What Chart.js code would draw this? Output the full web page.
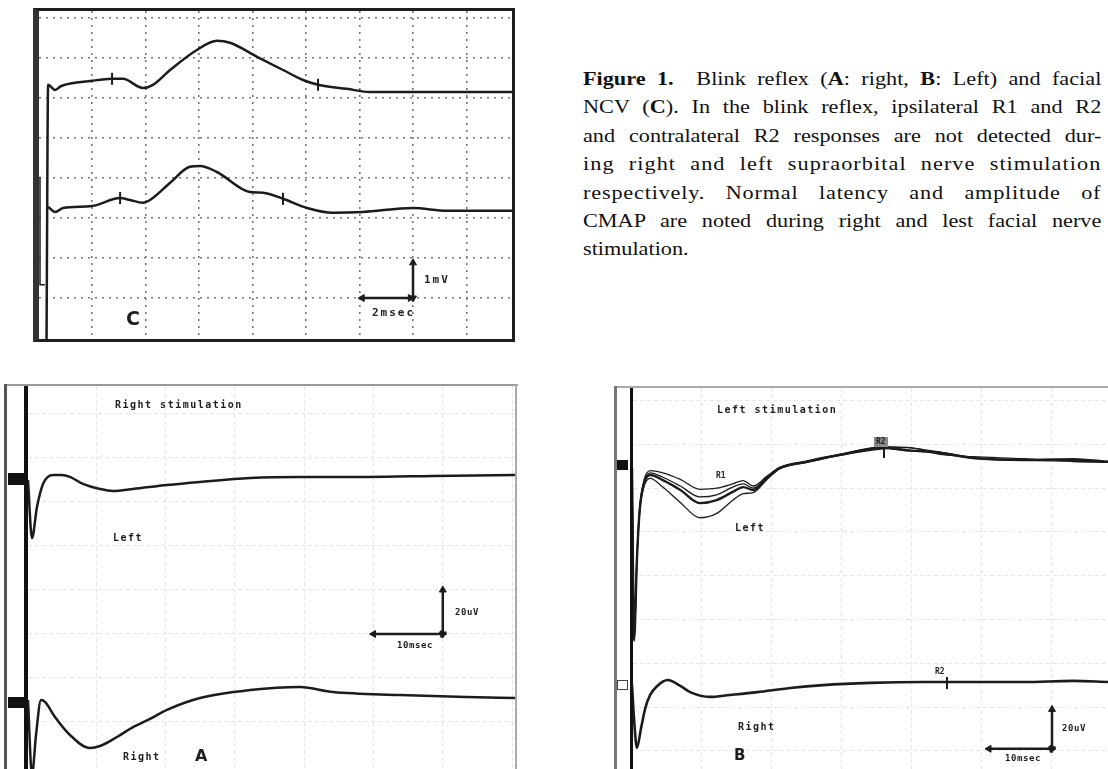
<!DOCTYPE html>
<html>
<head>
<meta charset="utf-8">
<script src="https://cdn.jsdelivr.net/npm/chart.js@4"></script>
<style>
  html, body { margin: 0; padding: 0; background: #fff; }
  body { width: 1108px; height: 769px; position: relative; overflow: hidden; }
  .abs { position: absolute; }
  canvas { position: absolute; display: block; }
  .lbl { position: absolute; font-family: "DejaVu Sans Mono", monospace; font-weight: bold; color: #1e1e1e; white-space: nowrap; }
  #cap { position: absolute; left: 583px; top: 65px; width: 443px; transform: scaleX(1.17); transform-origin: 0 0;
         font-family: "Liberation Serif", "Times New Roman", serif; font-size: 19px; line-height: 28.4px; color: #111; }
  #cap .ln { text-align: justify; text-align-last: justify; white-space: nowrap; }
  #cap .ln.last { text-align: left; text-align-last: left; }
</style>
</head>
<body>

<!-- Panel C frame -->
<div class="abs" style="left:33px;top:8px;width:482px;height:334px;box-sizing:border-box;border:3px solid #1e1e1e;border-left:6px solid #333;"></div>
<canvas id="chartC" width="473" height="328" style="left:39px;top:11px;"></canvas>
<div class="lbl" style="left:424px;top:273px;font-size:11px;line-height:14px;letter-spacing:2px;">1mV</div>
<div class="lbl" style="left:372px;top:306px;font-size:11px;line-height:14px;letter-spacing:2px;">2msec</div>
<div class="lbl" style="left:126px;top:306px;font-family:'DejaVu Sans',sans-serif;font-size:19px;line-height:24px;">C</div>

<!-- Panel A frame -->
<div class="abs" style="left:4px;top:384px;width:514px;height:2px;background:#9a9a9a;"></div>
<div class="abs" style="left:4px;top:384px;width:3px;height:385px;background:#555;"></div>
<div class="abs" style="left:515px;top:384px;width:2px;height:385px;background:#aaa;"></div>
<div class="abs" style="left:24px;top:386px;width:4px;height:383px;background:#111;"></div>
<div class="abs" style="left:8px;top:473px;width:16px;height:12px;background:#111;"></div>
<div class="abs" style="left:8px;top:697px;width:16px;height:11px;background:#111;"></div>
<canvas id="chartA" width="487" height="383" style="left:28px;top:386px;"></canvas>
<div class="lbl" style="left:115px;top:399px;font-size:10px;line-height:12px;letter-spacing:1.5px;">Right stimulation</div>
<div class="lbl" style="left:113px;top:532px;font-size:10px;line-height:12px;letter-spacing:1.5px;">Left</div>
<div class="lbl" style="left:123px;top:751px;font-size:10px;line-height:12px;letter-spacing:1.5px;">Right</div>
<div class="lbl" style="left:195px;top:747px;font-family:'DejaVu Sans',sans-serif;font-size:16px;line-height:18px;">A</div>
<div class="lbl" style="left:455px;top:607px;font-size:9px;line-height:11px;letter-spacing:0.6px;">20uV</div>
<div class="lbl" style="left:397px;top:640px;font-size:9px;line-height:11px;letter-spacing:0.6px;">10msec</div>

<!-- Panel B frame -->
<div class="abs" style="left:614px;top:386px;width:494px;height:2px;background:#aaa;"></div>
<div class="abs" style="left:614px;top:386px;width:3px;height:383px;background:#777;"></div>
<div class="abs" style="left:630px;top:388px;width:3px;height:381px;background:#111;"></div>
<div class="abs" style="left:617px;top:460px;width:11px;height:10px;background:#111;"></div>
<div class="abs" style="left:617px;top:680px;width:11px;height:10px;box-sizing:border-box;border:1px solid #444;"></div>
<canvas id="chartB" width="475" height="381" style="left:633px;top:388px;"></canvas>
<div class="lbl" style="left:717px;top:404px;font-size:10px;line-height:12px;letter-spacing:1.5px;">Left stimulation</div>
<div class="lbl" style="left:716px;top:471px;font-size:8px;line-height:10px;">R1</div>
<div class="lbl" style="left:874px;top:437px;font-size:8px;line-height:10px;background:#8a8a8a;padding:0 2px;">R2</div>
<div class="lbl" style="left:735px;top:522px;font-size:10px;line-height:12px;letter-spacing:1.5px;">Left</div>
<div class="lbl" style="left:738px;top:721px;font-size:10px;line-height:12px;letter-spacing:1.5px;">Right</div>
<div class="lbl" style="left:935px;top:667px;font-size:8px;line-height:10px;">R2</div>
<div class="lbl" style="left:734px;top:747px;font-family:'DejaVu Sans',sans-serif;font-size:15px;line-height:17px;">B</div>
<div class="lbl" style="left:1062px;top:723px;font-size:9px;line-height:11px;letter-spacing:0.6px;">20uV</div>
<div class="lbl" style="left:1005px;top:753px;font-size:9px;line-height:11px;letter-spacing:0.6px;">10msec</div>

<!-- Caption -->
<div id="cap">
  <div class="ln"><b>Figure 1.</b>&nbsp; Blink reflex (<b>A</b>: right, <b>B</b>: Left) and facial</div>
  <div class="ln">NCV (<b>C</b>). In the blink reflex, ipsilateral R1 and R2</div>
  <div class="ln">and contralateral R2 responses are not detected dur-</div>
  <div class="ln" style="letter-spacing:0.9px">ing right and left supraorbital nerve stimulation</div>
  <div class="ln" style="letter-spacing:0.7px">respectively. Normal latency and amplitude of</div>
  <div class="ln">CMAP are noted during right and lest facial nerve</div>
  <div class="ln last">stimulation.</div>
</div>

<script>
// ---------- Panel C: facial NCV (time ms, amplitude mV) ----------
const cUpperT = [0.30, 0.36, 0.62, 0.85, 2.00, 2.75, 3.16, 3.90, 4.28, 4.92, 5.92, 6.67, 7.16, 8.17, 9.14, 9.89, 10.45, 11.53, 12.39, 17.70];
const cUpperV = [-0.10, 6.33, 6.20, 6.30, 6.43, 6.48, 6.48, 6.25, 6.33, 6.70, 7.20, 7.43, 7.38, 7.03, 6.70, 6.45, 6.33, 6.23, 6.15, 6.15];
const cLowerT = [0.36, 0.62, 0.92, 2.00, 3.05, 3.42, 3.90, 4.17, 4.92, 5.66, 6.04, 6.67, 7.90, 8.40, 9.14, 10.04, 11.01, 12.13, 14.00, 15.27, 17.70];
const cLowerV = [3.28, 3.15, 3.25, 3.30, 3.50, 3.45, 3.38, 3.45, 3.88, 4.28, 4.30, 4.15, 3.65, 3.63, 3.48, 3.25, 3.13, 3.15, 3.25, 3.18, 3.18];
const cBracketT = [0.056, 0.056, 0.24];
const cBracketV = [4.03, 1.33, 1.33];
const cMarkT = [2.75, 10.45, 3.05, 9.14];
const cMarkV = [6.48, 6.33, 3.50, 3.48];
const cCalVertT = [14.0, 14.0];
const cCalVertV = [1.88, 1.0];
const cCalHorT = [12.1, 13.9];
const cCalHorV = [1.0, 1.0];
const cGridX = [2, 4, 6, 8, 10, 12, 14, 16];
const cGridY = [1, 2, 3, 4, 5, 6, 7, 8];
const cRangeX = [0.019, 17.70];
const cRangeY = [-0.025, 8.175];

// ---------- Panel A: right stimulation (time ms, amplitude uV) ----------
const aLeftT = [0.14, 0.72, 1.44, 2.31, 3.75, 5.05, 6.20, 8.08, 10.53, 12.41, 15.30, 20.20, 24.96, 32.18, 39.39, 49.06, 58.59, 70.42];
const aLeftV = [130.0, 103.6, 117.7, 128.2, 132.3, 132.3, 131.4, 128.2, 125.9, 125.0, 125.9, 127.7, 129.1, 130.9, 131.4, 131.4, 131.8, 132.3];
const aRightT = [0.14, 0.72, 1.30, 2.02, 2.60, 4.04, 6.20, 9.09, 10.53, 12.99, 15.30, 17.75, 20.20, 24.96, 32.18, 39.39, 44.16, 53.80, 63.50, 70.42];
const aRightV = [30.0, -4.1, 14.1, 30.0, 29.1, 22.3, 14.1, 8.2, 9.1, 13.2, 17.7, 21.4, 25.5, 30.9, 34.5, 35.9, 33.6, 32.3, 31.4, 30.9];
const aCalVertT = [60, 60];
const aCalVertV = [80, 60];
const aCalHorT = [50, 60];
const aCalHorV = [60, 60];
const aGridX = [10, 20, 30, 40, 50, 60, 70];
const aGridY = [20, 40, 60, 80, 100, 120, 140, 160];
const aRangeX = [0.144, 70.42];
const aRangeY = [-1.36, 172.7];

// ---------- Panel B: left stimulation (time ms, amplitude uV) ----------
const bUpperT = [0, 0.3, 0.7, 1.1, 1.7, 2.6, 4.4, 6.9, 9.7, 12.1, 14.4, 15.9, 17.3, 19.3, 21.1, 25.0, 29.7, 35.9, 39.3, 44.0, 48.7, 55.9, 63.0, 68.0];
const bLeft1 = [129.0, 51.0, 88.0, 111.0, 123.5, 128.0, 127.0, 124.0, 119.5, 120.0, 122.0, 123.5, 121.0, 125.5, 129.5, 132.5, 135.5, 139.0, 138.5, 136.5, 134.0, 133.0, 133.5, 132.3];
const bLeft2 = [129.0, 51.0, 87.5, 110.5, 122.5, 127.0, 125.0, 121.0, 116.0, 117.0, 120.5, 122.0, 120.0, 125.0, 129.3, 132.2, 135.3, 138.2, 137.0, 136.5, 133.6, 132.8, 132.5, 132.0];
const bLeft3 = [129.2, 50.7, 87.2, 110.0, 121.9, 126.0, 123.7, 119.2, 113.2, 114.6, 118.3, 120.5, 119.2, 124.7, 129.2, 132.0, 135.2, 138.4, 137.4, 136.1, 133.8, 132.9, 132.9, 132.0];
const bLeft4 = [129.0, 50.0, 86.5, 109.0, 120.5, 124.5, 120.5, 113.5, 106.5, 108.5, 114.5, 117.5, 118.0, 124.0, 128.8, 131.8, 135.0, 138.0, 138.6, 135.5, 134.4, 133.5, 132.2, 131.8];
const bRightT = [0, 0.3, 0.7, 1.3, 1.9, 2.6, 3.6, 5.1, 6.9, 8.3, 11.1, 14.0, 17.9, 22.6, 27.3, 34.0, 41.6, 46.9, 55.9, 63.0, 68.0];
const bRightV = [30.1, 14.2, 1.4, 10.5, 19.6, 25.6, 29.7, 32.4, 29.7, 26.9, 24.7, 25.6, 26.9, 28.8, 30.1, 31.1, 31.5, 31.5, 31.5, 32.0, 31.5];
const bMarkT = [36.0, 45.0];
const bMarkV = [136.5, 31.0];
const bCalVertT = [60, 60];
const bCalVertV = [19, 1];
const bCalHorT = [51, 60];
const bCalHorV = [1, 1];
const bGridX = [10, 20, 30, 40, 50, 60];
const bGridY = [0, 20, 40, 60, 80, 100, 120, 140, 160];
const bRangeX = [0.143, 68.0];
const bRangeY = [-8.22, 165.75];

// ---------- helpers ----------
const pts = (xs, ys) => xs.map((x, i) => ({ x: x, y: ys[i] }));
const INK = '#1c1c1c';

function trace(xs, ys, width) {
  return { data: pts(xs, ys), borderColor: INK, borderWidth: width, pointRadius: 0,
           cubicInterpolationMode: 'monotone', fill: false };
}
function straight(xs, ys, width) {
  return { data: pts(xs, ys), borderColor: INK, borderWidth: width, pointRadius: 0, tension: 0, fill: false };
}
function arrow(xs, ys, rotations) {
  return { data: pts(xs, ys), borderColor: INK, borderWidth: 2.5, tension: 0, fill: false,
           pointStyle: 'triangle', pointRadius: 4, pointRotation: rotations,
           pointBackgroundColor: INK, pointBorderColor: INK, pointBorderWidth: 1 };
}
function markers(xs, ys, r) {
  return { data: pts(xs, ys), showLine: false, pointStyle: 'line', pointRotation: 90,
           pointRadius: r, pointBorderColor: INK, pointBorderWidth: 2 };
}

function axis(range, gridVals, g) {
  return {
    type: 'linear', min: range[0], max: range[1],
    ticks: { display: false },
    grid: { drawTicks: false, color: g.color, lineWidth: g.width },
    border: { display: false, dash: g.dash },
    afterBuildTicks: s => { s.ticks = gridVals.map(v => ({ value: v })); }
  };
}

function panel(id, rx, ry, gx, gy, g, datasets) {
  return new Chart(document.getElementById(id), {
    type: 'line',
    data: { datasets: datasets },
    options: {
      responsive: false, maintainAspectRatio: false, animation: false, events: [],
      layout: { padding: 0, autoPadding: false },
      plugins: { legend: { display: false }, tooltip: { enabled: false } },
      scales: { x: axis(rx, gx, g), y: axis(ry, gy, g) }
    }
  });
}

// Panel C
panel('chartC', cRangeX, cRangeY, cGridX, cGridY,
  { color: '#777', width: 1.6, dash: [2, 5] },
  [
    trace(cUpperT, cUpperV, 2.5),
    trace(cLowerT, cLowerV, 2.5),
    straight(cBracketT, cBracketV, 1.5),
    markers(cMarkT, cMarkV, 6),
    arrow(cCalVertT, cCalVertV, [0, 180]),
    arrow(cCalHorT, cCalHorV, [270, 90])
  ]);

// Panel A
panel('chartA', aRangeX, aRangeY, aGridX, aGridY,
  { color: '#e6e6e6', width: 1, dash: [4, 3] },
  [
    trace(aLeftT, aLeftV, 2.5),
    trace(aRightT, aRightV, 2.5),
    arrow(aCalVertT, aCalVertV, [0, 180]),
    arrow(aCalHorT, aCalHorV, [270, 90])
  ]);

// Panel B
panel('chartB', bRangeX, bRangeY, bGridX, bGridY,
  { color: '#e6e6e6', width: 1, dash: [4, 3] },
  [
    trace(bUpperT, bLeft1, 1.3),
    trace(bUpperT, bLeft2, 1.3),
    trace(bUpperT, bLeft3, 2.4),
    trace(bUpperT, bLeft4, 1.3),
    trace(bRightT, bRightV, 2.6),
    markers(bMarkT, bMarkV, 6),
    arrow(bCalVertT, bCalVertV, [0, 180]),
    arrow(bCalHorT, bCalHorV, [270, 90])
  ]);
</script>
</body>
</html>
